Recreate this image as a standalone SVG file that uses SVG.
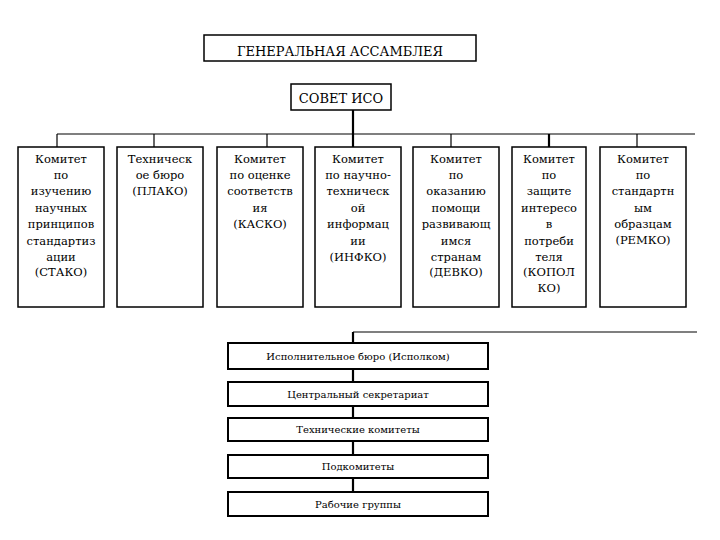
<svg xmlns="http://www.w3.org/2000/svg" width="720" height="540" viewBox="0 0 720 540">
<style>
.box{fill:#fff;stroke:#000;stroke-width:1.5}
.lbox{fill:#fff;stroke:#000;stroke-width:2}
.ln{stroke:#000;stroke-width:1.2;fill:none}
.thk{stroke:#000;stroke-width:2.2;fill:none}
text{font-family:'DejaVu Serif',serif;fill:#000;text-anchor:middle}
.t{font-size:11.5px}
.h{font-size:13px}
.s{font-size:10px}
</style>
<rect width="720" height="540" fill="#fff"/>
<g id="connectors">
<line class="thk" x1="353" y1="110" x2="353" y2="147"/>
<line class="ln" x1="57" y1="134" x2="695" y2="134"/>
<line class="ln" x1="57" y1="134" x2="57" y2="147"/>
<line class="ln" x1="154" y1="134" x2="154" y2="147"/>
<line class="ln" x1="267" y1="134" x2="267" y2="147"/>
<line class="ln" x1="451" y1="134" x2="451" y2="147"/>
<line class="thk" x1="549" y1="134" x2="549" y2="147"/>
<line class="ln" x1="637" y1="134" x2="637" y2="147"/>
<line class="ln" x1="353" y1="332" x2="697" y2="332"/>
<line class="thk" x1="353" y1="332" x2="353" y2="343"/>
<line class="thk" x1="353" y1="369" x2="353" y2="382"/>
<line class="thk" x1="353" y1="406" x2="353" y2="418"/>
<line class="thk" x1="353" y1="441" x2="353" y2="455"/>
<line class="thk" x1="353" y1="478" x2="353" y2="492"/>
</g>
<g id="ga">
<rect class="box" x="204" y="35" width="272" height="26"/>
<text class="h" x="340" y="56">ГЕНЕРАЛЬНАЯ АССАМБЛЕЯ</text>
</g>
<g id="iso">
<rect class="box" x="291" y="84" width="100" height="26"/>
<text class="h" x="341" y="103">СОВЕТ ИСО</text>
</g>
<g id="stako">
<rect class="box" x="18" y="147" width="86" height="160"/>
<text class="t" x="61"><tspan x="61" y="163">Комитет</tspan><tspan x="61" y="179">по</tspan><tspan x="61" y="195">изучению</tspan><tspan x="61" y="212">научных</tspan><tspan x="61" y="228">принципов</tspan><tspan x="61" y="245">стандартиз</tspan><tspan x="61" y="261">ации</tspan><tspan x="61" y="276">(СТАКО)</tspan></text>
</g>
<g id="plako">
<rect class="box" x="117" y="147" width="86" height="160"/>
<text class="t" x="160"><tspan x="160" y="163">Техническ</tspan><tspan x="160" y="179">ое бюро</tspan><tspan x="160" y="195">(ПЛАКО)</tspan></text>
</g>
<g id="kasko">
<rect class="box" x="217" y="147" width="86" height="160"/>
<text class="t" x="260"><tspan x="260" y="163">Комитет</tspan><tspan x="260" y="179">по оценке</tspan><tspan x="260" y="195">соответств</tspan><tspan x="260" y="212">ия</tspan><tspan x="260" y="228">(КАСКО)</tspan></text>
</g>
<g id="infko">
<rect class="box" x="315" y="147" width="86" height="160"/>
<text class="t" x="358"><tspan x="358" y="163">Комитет</tspan><tspan x="358" y="179">по научно-</tspan><tspan x="358" y="195">техническ</tspan><tspan x="358" y="212">ой</tspan><tspan x="358" y="228">информац</tspan><tspan x="358" y="245">ии</tspan><tspan x="358" y="261">(ИНФКО)</tspan></text>
</g>
<g id="devko">
<rect class="box" x="413" y="147" width="86" height="160"/>
<text class="t" x="456"><tspan x="456" y="163">Комитет</tspan><tspan x="456" y="179">по</tspan><tspan x="456" y="195">оказанию</tspan><tspan x="456" y="212">помощи</tspan><tspan x="456" y="228">развивающ</tspan><tspan x="456" y="245">имся</tspan><tspan x="456" y="261">странам</tspan><tspan x="456" y="276">(ДЕВКО)</tspan></text>
</g>
<g id="kopolko">
<rect class="box" x="512" y="147" width="74" height="160"/>
<text class="t" x="549"><tspan x="549" y="163">Комитет</tspan><tspan x="549" y="179">по</tspan><tspan x="549" y="195">защите</tspan><tspan x="549" y="212">интересо</tspan><tspan x="549" y="228">в</tspan><tspan x="549" y="245">потреби</tspan><tspan x="549" y="261">теля</tspan><tspan x="549" y="276">(КОПОЛ</tspan><tspan x="549" y="292">КО)</tspan></text>
</g>
<g id="remko">
<rect class="box" x="600" y="147" width="86" height="160"/>
<text class="t" x="643"><tspan x="643" y="163">Комитет</tspan><tspan x="643" y="179">по</tspan><tspan x="643" y="195">стандартн</tspan><tspan x="643" y="212">ым</tspan><tspan x="643" y="228">образцам</tspan><tspan x="643" y="244">(РЕМКО)</tspan></text>
</g>
<g id="ispolkom">
<rect class="lbox" x="228" y="343" width="260" height="26"/>
<text class="s" x="358" y="360">Исполнительное бюро (Исполком)</text>
</g>
<g id="secretariat">
<rect class="lbox" x="228" y="382" width="260" height="24"/>
<text class="s" x="358" y="398">Центральный секретариат</text>
</g>
<g id="tc">
<rect class="lbox" x="228" y="418" width="260" height="23"/>
<text class="s" x="358" y="433">Технические комитеты</text>
</g>
<g id="sc">
<rect class="lbox" x="228" y="455" width="260" height="23"/>
<text class="s" x="358" y="470">Подкомитеты</text>
</g>
<g id="wg">
<rect class="lbox" x="228" y="492" width="260" height="24"/>
<text class="s" x="358" y="508">Рабочие группы</text>
</g>
</svg>
